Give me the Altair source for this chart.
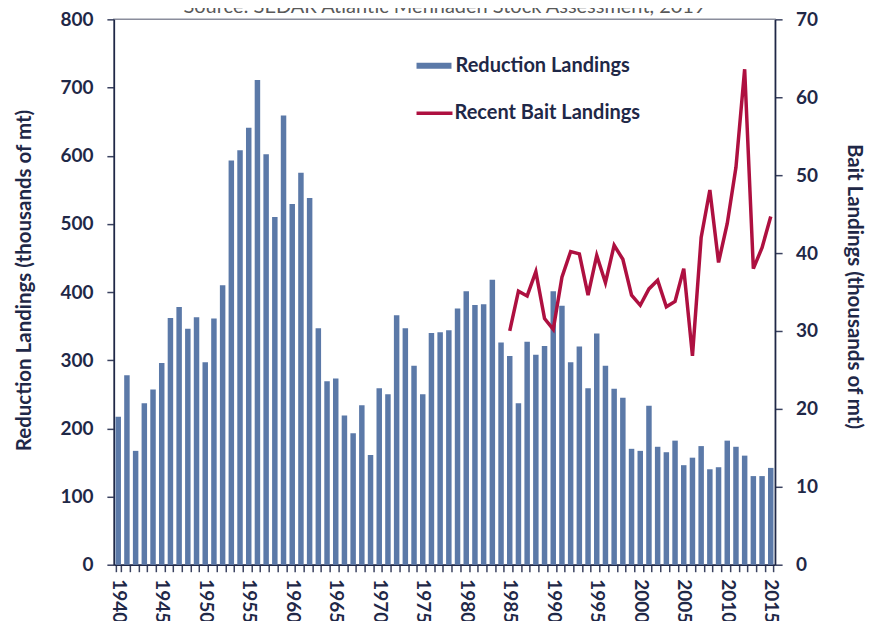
import altair as alt
import pandas as pd

# ---- data ----
years = list(range(1940, 2016))
reduction = [
    217, 278, 167, 237, 257, 296, 362, 378, 346, 363,   # 1940s
    297, 361, 410, 593, 608, 641, 711, 602, 510, 659,   # 1950s
    529, 575, 538, 347, 269, 273, 219, 193, 234, 161,   # 1960s
    259, 250, 366, 347, 292, 250, 340, 341, 344, 376,   # 1970s
    401, 381, 382, 418, 326, 306, 237, 327, 308, 321,   # 1980s
    401, 380, 297, 320, 259, 339, 292, 258, 245, 170,   # 1990s
    167, 233, 173, 165, 182, 146, 157, 174, 140, 143,   # 2000s
    182, 173, 160, 130, 130, 142,                       # 2010-2015
]
bait_years = list(range(1985, 2016))
bait = [
    30.0, 35.1, 34.5, 37.6, 31.6, 30.2, 36.9, 40.2, 39.9, 34.6,
    39.7, 36.2, 41.0, 39.2, 34.6, 33.3, 35.4, 36.5, 33.1, 33.8,
    38.0, 26.8, 42.0, 48.1, 38.8, 43.8, 51.0, 63.6, 38.0, 40.7,
    44.7,
]
left_ticks = [0, 100, 200, 300, 400, 500, 600, 700, 800]
right_ticks = [0, 10, 20, 30, 40, 50, 60, 70]

title_text = "Source: SEDAR Atlantic Menhaden Stock Assessment, 2019"
left_title = "Reduction Landings (thousands of mt)"
right_title = "Bait Landings (thousands of mt)"
bar_label = "Reduction Landings"
line_label = "Recent Bait Landings"

bars_df = pd.DataFrame({"year": years, "value": reduction, "series": bar_label})
bait_df = pd.DataFrame({"year": bait_years, "value": bait, "series": line_label})
title_df = pd.DataFrame({"t": [title_text]})

FONT = "Lato"
NAVY = "#1f2847"
BAR = "#5b79a8"
LINE = "#ae1040"
W, H = 662, 546

axis_style = dict(
    labelFont=FONT, labelFontSize=19, labelFontWeight="bold", labelColor=NAVY,
    titleFont=FONT, titleFontSize=20.5, titleFontWeight="bold", titleColor=NAVY,
    domainColor=NAVY, domainWidth=1.5, tickColor="#3a4260", tickWidth=1.5,
    tickSize=7, grid=False,
)

x_enc = alt.X(
    "year:O",
    scale=alt.Scale(paddingInner=0.37, paddingOuter=0.185),
    axis=alt.Axis(
        title=None, tickBand="extent", labelAngle=90, labelOverlap=False,
        labelExpr="datum.value % 5 == 0 ? datum.label : ''",
        labelPadding=7, **axis_style,
    ),
)

bars = alt.Chart(bars_df).mark_bar().encode(
    x=x_enc,
    y=alt.Y(
        "value:Q",
        scale=alt.Scale(domain=[0, 800], nice=False),
        axis=alt.Axis(
            values=left_ticks, title=left_title, titleAngle=-90,
            titleX=-89.5, titleY=261, titleBaseline="middle",
            labelPadding=14, **axis_style,
        ),
    ),
    color=alt.Color(
        "series:N",
        scale=alt.Scale(range=[BAR]),
        legend=alt.Legend(
            orient="none", legendX=303, legendY=29, title=None, padding=0,
            symbolType="M-1,-0.17H1V0.17H-1Z", symbolSize=1225, symbolStrokeWidth=0,
            labelFont=FONT, labelFontSize=20, labelFontWeight="bold",
            labelColor=NAVY, labelOffset=4, labelLimit=400,
        ),
    ),
)

line = alt.Chart(bait_df).mark_line(strokeWidth=3.5).encode(
    x=alt.X("year:O"),
    y=alt.Y(
        "value:Q",
        scale=alt.Scale(domain=[0, 70], nice=False),
        axis=alt.Axis(
            orient="right", values=right_ticks, title=right_title, titleAngle=90,
            titleX=78, titleY=267, titleBaseline="middle",
            labelPadding=13.5, **axis_style,
        ),
    ),
    stroke=alt.Stroke(
        "series:N",
        scale=alt.Scale(range=[LINE]),
        legend=alt.Legend(
            orient="none", legendX=301, legendY=74, title=None, padding=0,
            symbolType="stroke", symbolSize=1296, symbolStrokeWidth=3.5,
            labelFont=FONT, labelFontSize=20, labelFontWeight="bold",
            labelColor=NAVY, labelOffset=0, labelLimit=400,
        ),
    ),
)

title = alt.Chart(title_df).mark_text(
    font=FONT, fontSize=20, color="#595959", align="center", baseline="alphabetic",
).encode(text="t:N", x=alt.value(W / 2), y=alt.value(-6))

chart = (
    alt.layer(bars, line, title)
    .resolve_scale(y="independent", color="independent", stroke="independent")
    .properties(
        width=W,
        height=H,
        autosize=alt.AutoSizeParams(type="none"),
        padding={"left": 106, "top": 11, "right": 90, "bottom": 56},
    )
    .configure_view(stroke="#8a8d9c", strokeWidth=1.5)
)

chart.save("out.html", embed_options={"renderer": "svg", "actions": False})
